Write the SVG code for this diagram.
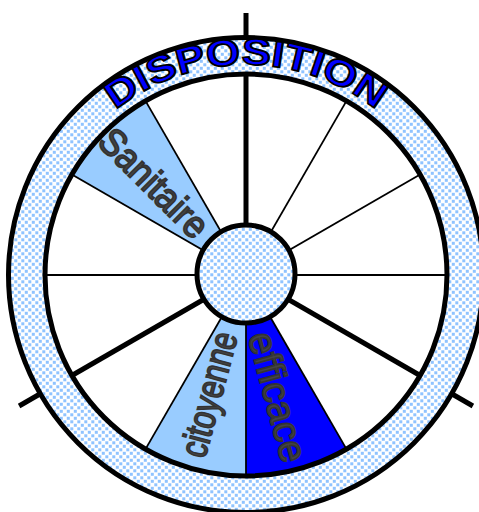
<svg xmlns="http://www.w3.org/2000/svg" width="479" height="512" viewBox="0 0 479 512">
<defs>
<pattern id="dots" width="7" height="7" patternUnits="userSpaceOnUse">
<rect width="7" height="7" fill="#ffffff"/>
<rect x="0.3" y="0.3" width="3" height="3" fill="#8fc3ff"/>
<rect x="3.8" y="3.8" width="3" height="3" fill="#8fc3ff"/>
</pattern>
<path id="arc" d="M 115.3,110.2 A 210 210 0 0 1 376.7,110.2"/>
<style>
.thick{stroke:#000;stroke-width:5;fill:none}
.thin{stroke:#000;stroke-width:1.8;fill:none}
.ring{fill:url(#dots);stroke:#000;stroke-width:5}
.lbl{font-family:"Liberation Sans",Arial,sans-serif;fill:#444444;stroke:#333;stroke-width:1.8}
.title{font-family:"Liberation Sans",Arial,sans-serif;font-weight:bold;font-size:37px;fill:#0000ff;stroke:#000;stroke-width:1.8}
</style>
</defs>
<rect width="479" height="512" fill="#ffffff"/>

<g id="connectors">
<line class="thick" x1="246" y1="275" x2="246" y2="13"/>
<line class="thick" x1="246" y1="275" x2="19.1" y2="406"/>
<line class="thick" x1="246" y1="275" x2="472.9" y2="406"/>
</g>

<g id="outer-ring">
<circle class="ring" cx="246" cy="275" r="237.5"/>
</g>

<g id="wheel">
<circle cx="246" cy="275" r="201" fill="#ffffff"/>
<path id="sector-sanitaire" d="M246,275 L145.5,100.9 A201,201 0 0 0 71.9,174.5 Z" fill="#99ccff"/>
<path id="sector-citoyenne" d="M246,275 L145.5,449.1 A201,201 0 0 0 246,476 Z" fill="#99ccff"/>
<path id="sector-efficace" d="M246,275 L246,476 A201,201 0 0 0 346.5,449.1 Z" fill="#0000ff"/>
</g>

<g id="spokes">
<line class="thin" x1="246" y1="275" x2="447" y2="275"/>
<line class="thin" x1="246" y1="275" x2="420.1" y2="174.5"/>
<line class="thin" x1="246" y1="275" x2="346.5" y2="100.9"/>
<line class="thin" x1="246" y1="275" x2="145.5" y2="100.9"/>
<line class="thin" x1="246" y1="275" x2="71.9" y2="174.5"/>
<line class="thin" x1="246" y1="275" x2="45" y2="275"/>
<line class="thin" x1="246" y1="275" x2="145.5" y2="449.1"/>
<line class="thin" x1="246" y1="275" x2="246" y2="476"/>
<line class="thin" x1="246" y1="275" x2="346.5" y2="449.1"/>
<line class="thick" x1="246" y1="275" x2="246" y2="74"/>
<line class="thick" x1="246" y1="275" x2="71.9" y2="375.5"/>
<line class="thick" x1="246" y1="275" x2="420.1" y2="375.5"/>
</g>

<g id="rim">
<circle cx="246" cy="275" r="201" fill="none" stroke="#000" stroke-width="5"/>
</g>

<g id="hub">
<circle class="ring" cx="246" cy="274" r="49"/>
</g>

<g id="title">
<text class="title" textLength="281" lengthAdjust="spacingAndGlyphs"><textPath href="#arc" startOffset="50%" text-anchor="middle">DISPOSITION</textPath></text>
</g>

<g id="label-sanitaire" transform="translate(154,183) rotate(45)">
<text class="lbl" x="0" y="13" font-size="38" text-anchor="middle" textLength="138" lengthAdjust="spacingAndGlyphs">Sanitaire</text>
</g>
<g id="label-citoyenne" transform="translate(213.6,395.7) rotate(-75)">
<text class="lbl" x="0" y="8" font-size="38" text-anchor="middle" textLength="128" lengthAdjust="spacingAndGlyphs">citoyenne</text>
</g>
<g id="label-efficace" transform="translate(278.6,396.7) rotate(75)">
<text class="lbl" x="0" y="14" font-size="39" text-anchor="middle" textLength="133" lengthAdjust="spacingAndGlyphs">efficace</text>
</g>
</svg>
